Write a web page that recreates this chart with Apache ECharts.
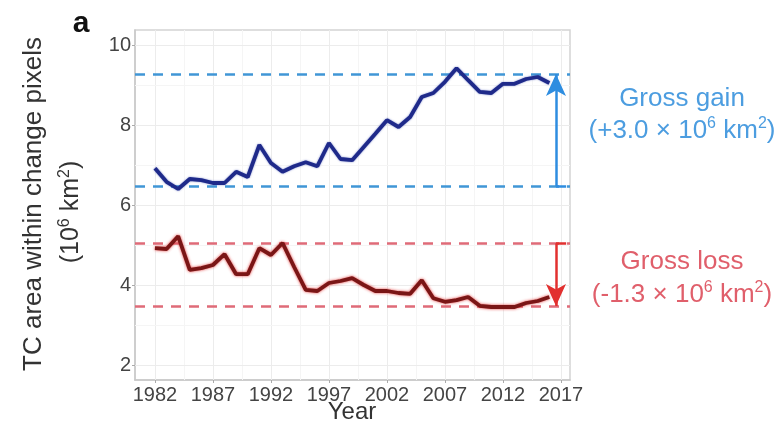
<!DOCTYPE html>
<html>
<head>
<meta charset="utf-8">
<script src="https://cdn.jsdelivr.net/npm/echarts@6/dist/echarts.min.js"></script>
<style>
  html, body { margin: 0; padding: 0; background: #ffffff; }
  #chart { width: 782px; height: 426px; }
</style>
</head>
<body>
<div id="chart"></div>
<script>
// Tree-cover area inside pixels that changed, 1982-2016 (10^6 km^2)
const years = [1982, 1983, 1984, 1985, 1986, 1987, 1988, 1989, 1990, 1991,
               1992, 1993, 1994, 1995, 1996, 1997, 1998, 1999, 2000, 2001,
               2002, 2003, 2004, 2005, 2006, 2007, 2008, 2009, 2010, 2011,
               2012, 2013, 2014, 2015, 2016];
const gainArea = [6.92, 6.58, 6.40, 6.65, 6.62, 6.55, 6.55, 6.83, 6.70, 7.50,
                  7.05, 6.83, 6.97, 7.07, 6.97, 7.55, 7.15, 7.12, 7.45, 7.78,
                  8.12, 7.95, 8.20, 8.70, 8.80, 9.08, 9.42, 9.12, 8.83, 8.80,
                  9.03, 9.03, 9.15, 9.20, 9.05];
const lossArea = [4.92, 4.90, 5.22, 4.38, 4.42, 4.50, 4.77, 4.27, 4.27, 4.92,
                  4.75, 5.05, 4.45, 3.88, 3.85, 4.05, 4.10, 4.17, 4.00, 3.85,
                  3.85, 3.80, 3.78, 4.12, 3.67, 3.58, 3.62, 3.70, 3.48, 3.45,
                  3.45, 3.45, 3.55, 3.60, 3.70];

// Reference levels: [upper, lower]
const gainLevels = [9.275, 6.475];
const lossLevels = [5.04, 3.475];

// Axis ticks
const xTicks = [1982, 1987, 1992, 1997, 2002, 2007, 2012, 2017];
const yTicks = [2, 4, 6, 8, 10];
const xMinorGrid = [1984.5, 1989.5, 1994.5, 1999.5, 2004.5, 2009.5, 2014.5];
const yMinorGrid = [3, 5, 7, 9];

// Where the change arrows stand, in years
const arrowYear = 2016.57;
const hookYear = 2017.45;

const FONT = '"Liberation Sans", Arial, Helvetica, sans-serif';
const BLUE_LINE = '#1f2a8a';
const RED_LINE = '#7a1616';
const BLUE_DASH = '#4096d6';
const RED_DASH = '#df6b78';
const BLUE_ARROW = '#2e8de0';
const RED_ARROW = '#e2302f';
const BLUE_TEXT = '#4c9de0';
const RED_TEXT = '#e05f6b';

const pairs = (vals) => years.map((y, i) => [y, vals[i]]);

const chart = echarts.init(document.getElementById('chart'), null, { renderer: 'canvas' });

const quiet = { label: { show: false }, emphasis: { disabled: true }, silent: true, animation: false };

const gridLines = [
  ...xTicks.map(v => ({ xAxis: v, lineStyle: { color: '#ececec', width: 1, type: 'solid' } })),
  ...xMinorGrid.map(v => ({ xAxis: v, lineStyle: { color: '#f5f5f5', width: 1, type: 'solid' } })),
  ...yTicks.map(v => ({ yAxis: v, lineStyle: { color: '#ececec', width: 1, type: 'solid' } })),
  ...yMinorGrid.map(v => ({ yAxis: v, lineStyle: { color: '#f5f5f5', width: 1, type: 'solid' } }))
];

const sup = { fontSize: 16, verticalAlign: 'top', lineHeight: 18, fontFamily: FONT };

const option = {
  backgroundColor: '#ffffff',
  animation: false,
  grid: {
    left: 135, right: 212, top: 30, bottom: 46,
    show: true, borderColor: '#d4d4d4', borderWidth: 1.5, backgroundColor: 'transparent'
  },
  xAxis: {
    type: 'value',
    min: 1980.28, max: 2017.78,
    splitLine: { show: false },
    axisLine: { show: true, lineStyle: { color: '#c8c8c8', width: 1.5 } },
    axisTick: { show: true, length: 3, lineStyle: { color: '#aaaaaa' }, customValues: xTicks },
    axisLabel: {
      customValues: xTicks, fontSize: 20, color: '#444444', fontFamily: FONT, margin: 5,
      formatter: v => String(v)
    }
  },
  yAxis: {
    type: 'value',
    min: 1.625, max: 10.375,
    splitLine: { show: false },
    axisLine: { show: true, lineStyle: { color: '#c8c8c8', width: 1.5 } },
    axisTick: { show: true, length: 3, lineStyle: { color: '#aaaaaa' }, customValues: yTicks },
    axisLabel: {
      customValues: yTicks, fontSize: 20, color: '#444444', fontFamily: FONT, margin: 4,
      formatter: v => String(v)
    }
  },
  series: [
    {
      name: 'grid', type: 'line', data: [], z: 1,
      markLine: Object.assign({ symbol: ['none', 'none'], data: gridLines, z: 1 }, quiet)
    },
    {
      name: 'gain levels', type: 'line', data: [], z: 2,
      markLine: Object.assign({
        symbol: ['none', 'none'],
        lineStyle: { color: BLUE_DASH, width: 2.5, type: [10, 8] },
        data: gainLevels.map(v => ({ yAxis: v }))
      }, quiet)
    },
    {
      name: 'loss levels', type: 'line', data: [], z: 2,
      markLine: Object.assign({
        symbol: ['none', 'none'],
        lineStyle: { color: RED_DASH, width: 2.5, type: [10, 8] },
        data: lossLevels.map(v => ({ yAxis: v }))
      }, quiet)
    },
    {
      name: 'Gain', type: 'line', data: pairs(gainArea), z: 5,
      showSymbol: false, symbol: 'none',
      lineStyle: { color: BLUE_LINE, width: 3.8, shadowColor: 'rgba(40,60,170,0.6)', shadowBlur: 2 },
      emphasis: { disabled: true }
    },
    {
      name: 'Loss', type: 'line', data: pairs(lossArea), z: 5,
      showSymbol: false, symbol: 'none',
      lineStyle: { color: RED_LINE, width: 3.8, shadowColor: 'rgba(225,40,40,0.9)', shadowBlur: 3 },
      emphasis: { disabled: true }
    },
    {
      name: 'gain arrow', type: 'line', data: [], z: 6,
      markLine: Object.assign({
        lineStyle: { color: BLUE_ARROW, width: 2.5, type: 'solid' },
        data: [
          [{ coord: [arrowYear, gainLevels[1]], symbol: 'none' },
           { coord: [arrowYear, gainLevels[0]], symbol: 'arrow', symbolSize: [15, 22] }],
          [{ coord: [hookYear, gainLevels[1]], symbol: 'none' },
           { coord: [arrowYear, gainLevels[1]], symbol: 'none' }]
        ]
      }, quiet)
    },
    {
      name: 'loss arrow', type: 'line', data: [], z: 6,
      markLine: Object.assign({
        lineStyle: { color: RED_ARROW, width: 2.5, type: 'solid' },
        data: [
          [{ coord: [arrowYear, lossLevels[0]], symbol: 'none' },
           { coord: [arrowYear, lossLevels[1]], symbol: 'arrow', symbolSize: [15, 22] }],
          [{ coord: [hookYear, lossLevels[0]], symbol: 'none' },
           { coord: [arrowYear, lossLevels[0]], symbol: 'none' }]
        ]
      }, quiet)
    }
  ],
  graphic: [
    {
      type: 'text', x: 81, y: 24,
      style: { text: 'a', font: 'bold 30px ' + FONT, fill: '#111111', align: 'center', verticalAlign: 'middle' }
    },
    {
      type: 'text', x: 34, y: 204, rotation: Math.PI / 2,
      style: { text: 'TC area within change pixels', font: '26px ' + FONT, fill: '#333333',
               align: 'center', verticalAlign: 'middle' }
    },
    {
      type: 'text', x: 71, y: 212, rotation: Math.PI / 2,
      style: {
        text: '{t|(10}{s|6}{t| km}{s|2}{t|)}', align: 'center', verticalAlign: 'middle',
        rich: {
          t: { fontSize: 25, lineHeight: 29, fontFamily: FONT, fill: '#333333', color: '#333333' },
          s: Object.assign({ fill: '#333333', color: '#333333' }, sup)
        }
      }
    },
    {
      type: 'text', x: 352, y: 412,
      style: { text: 'Year', font: '24px ' + FONT, fill: '#333333', align: 'center', verticalAlign: 'middle' }
    },
    {
      type: 'text', x: 682, y: 99,
      style: { text: 'Gross gain', font: '26px ' + FONT, fill: BLUE_TEXT, align: 'center', verticalAlign: 'middle' }
    },
    {
      type: 'text', x: 682, y: 131,
      style: {
        text: '{t|(+3.0 × 10}{s|6}{t| km}{s|2}{t|)}', align: 'center', verticalAlign: 'middle',
        rich: {
          t: { fontSize: 26, lineHeight: 30, fontFamily: FONT, fill: BLUE_TEXT, color: BLUE_TEXT },
          s: Object.assign({ fill: BLUE_TEXT, color: BLUE_TEXT }, sup)
        }
      }
    },
    {
      type: 'text', x: 682, y: 262,
      style: { text: 'Gross loss', font: '26px ' + FONT, fill: RED_TEXT, align: 'center', verticalAlign: 'middle' }
    },
    {
      type: 'text', x: 682, y: 295,
      style: {
        text: '{t|(-1.3 × 10}{s|6}{t| km}{s|2}{t|)}', align: 'center', verticalAlign: 'middle',
        rich: {
          t: { fontSize: 26, lineHeight: 30, fontFamily: FONT, fill: RED_TEXT, color: RED_TEXT },
          s: Object.assign({ fill: RED_TEXT, color: RED_TEXT }, sup)
        }
      }
    }
  ]
};

chart.setOption(option);
</script>
</body>
</html>
